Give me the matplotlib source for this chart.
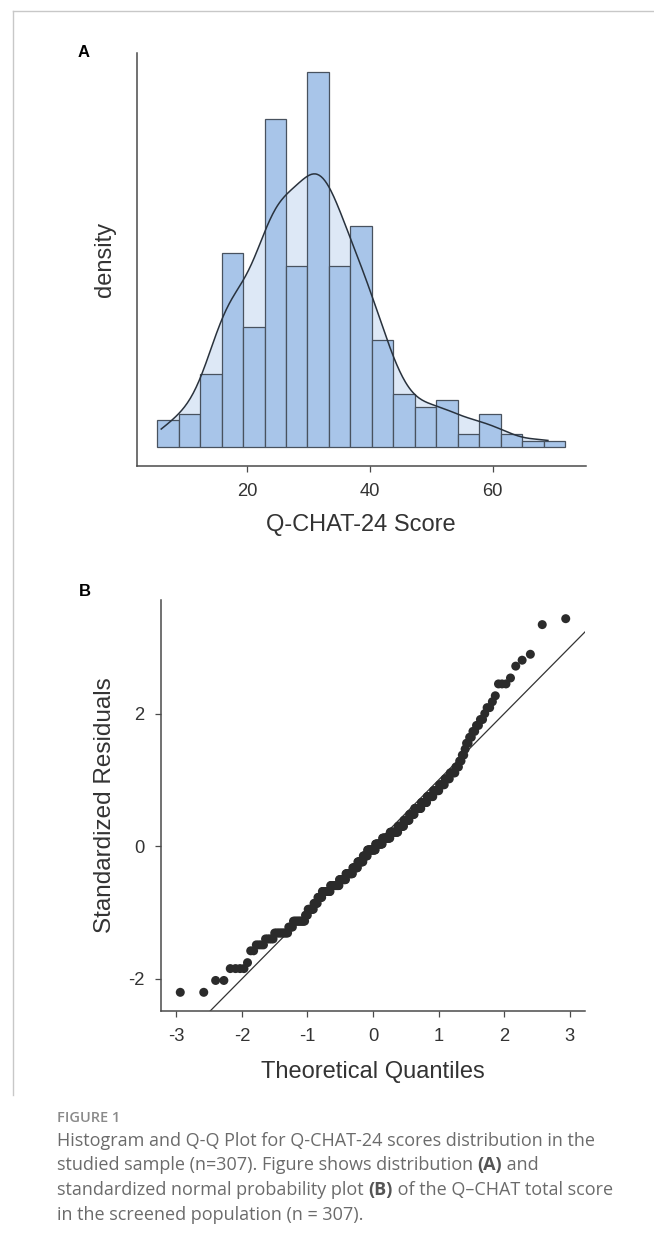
import numpy as np
import matplotlib
matplotlib.use("Agg")
import matplotlib.pyplot as plt
from matplotlib.lines import Line2D
from statistics import NormalDist

# ---------------- data: Q-CHAT-24 total scores (value -> number of children), n = 307
score_values = [6, 8, 10, 11, 13, 14, 15, 16, 17, 18, 19, 20, 21, 22, 23, 24, 25, 26,
                27, 28, 29, 30, 31, 32, 33, 34, 35, 36, 37, 38, 39, 40, 41, 42, 43,
                44, 45, 46, 47, 48, 49, 50, 51, 52, 53, 54, 55, 56, 58, 59, 61, 62,
                63, 68, 69]
score_counts = [2, 2, 4, 1, 2, 4, 5, 10, 4, 12, 3, 7, 5, 6, 12, 14, 11, 12,
                9, 10, 8, 15, 13, 14, 14, 10, 9, 8, 10, 8, 8, 7, 6, 5, 5,
                3, 2, 2, 1, 2, 2, 2, 2, 2, 1, 2, 1, 1, 3, 1, 1, 1,
                1, 1, 1]

hist_xticks = [20, 40, 60]
qq_xticks = [-3, -2, -1, 0, 1, 2, 3]
qq_yticks = [-2, 0, 2]

caption_title = "FIGURE 1"
caption_lines = [
    [("Histogram and Q-Q Plot for Q-CHAT-24 scores distribution in the", False)],
    [("studied sample (n=307). Figure shows distribution ", False), ("(A)", True), (" and", False)],
    [("standardized normal probability plot ", False), ("(B)", True), (" of the Q\u2013CHAT total score", False)],
    [("in the screened population (n = 307).", False)],
]

# ---------------- styles
W, H = 654, 1241
BAR_FACE = "#A8C5E9"
BAR_EDGE = "#48525F"
KDE_FILL = "#DDE8F6"
KDE_LINE = "#29323D"
SPINE = "#4a4a4a"
TXT = "#333333"
CAP = "#6b6b6b"
FONT = ["Liberation Sans", "DejaVu Sans"]
plt.rcParams["font.family"] = FONT
plt.rcParams["axes.unicode_minus"] = False

scores = np.repeat(np.array(score_values, float), score_counts)
n = scores.size

fig = plt.figure(figsize=(W / 100, H / 100), dpi=100)
fig.patch.set_facecolor("white")


def rect(l, t, r, b):
    return [l / W, 1 - b / H, (r - l) / W, (b - t) / H]


def style_axes(ax):
    for s in ("top", "right"):
        ax.spines[s].set_visible(False)
    for s in ("left", "bottom"):
        ax.spines[s].set_color(SPINE)
        ax.spines[s].set_linewidth(1.1)
    ax.tick_params(direction="out", length=4.2, width=0.9, color=SPINE,
                   labelsize=13.2, labelcolor=TXT, pad=8)


# ---------------- panel A: histogram + density
axA = fig.add_axes(rect(136.7, 53.3, 585.7, 466))
style_axes(axA)
bin_start, bin_width, n_bins = 5.33, 3.5, 19
edges = bin_start + bin_width * np.arange(n_bins + 1)
dens, _ = np.histogram(scores, bins=edges, density=True)

# gaussian kernel density (bw.nrd0), evaluated over the data range
sd = scores.std(ddof=1)
iqr = np.subtract(*np.percentile(scores, [75, 25]))
bw = 0.9 * min(sd, iqr / 1.34) * n ** (-0.2)
gx = np.linspace(scores.min(), scores.max(), 400)
gy = np.exp(-0.5 * ((gx[:, None] - scores[None, :]) / bw) ** 2).sum(1) / (n * bw * np.sqrt(2 * np.pi))

axA.fill_between(gx, gy, 0, color=KDE_FILL, lw=0, zorder=1)
axA.bar(edges[:-1], dens, width=bin_width, align="edge", color=BAR_FACE,
        edgecolor=BAR_EDGE, linewidth=0.9, zorder=2)
axA.plot(gx, gy, color=KDE_LINE, lw=1.1, zorder=3)

xr = edges[-1] - edges[0]
axA.set_xlim(edges[0] - 0.05 * xr, edges[-1] + 0.05 * xr)
top = dens.max()
axA.set_ylim(-0.05 * top, 1.05 * top)
axA.set_xticks(hist_xticks)
axA.set_yticks([])
axA.set_xlabel("Q-CHAT-24 Score", fontsize=17, color=TXT, va="center")
axA.xaxis.set_label_coords(0.5, -(525 - 466) / (466 - 53.3))
axA.set_ylabel("density", fontsize=17, color=TXT, va="center", ha="center")
axA.yaxis.set_label_coords((105 - 136.7) / (585.7 - 136.7), 0.5)

# ---------------- panel B: Q-Q plot
axB = fig.add_axes(rect(161, 600, 585, 1011))
style_axes(axB)
z = np.sort((scores - scores.mean()) / sd)
theo = np.array([NormalDist().inv_cdf((i - 0.5) / n) for i in range(1, n + 1)])
axB.scatter(theo, z, s=42, color="#2b2b2b", edgecolors="none", zorder=3)
axB.margins(x=0.05, y=0.05)
axB.axline((0, 0), slope=1, color="#333333", lw=0.9, zorder=2)
axB.set_xticks(qq_xticks)
axB.set_yticks(qq_yticks)
axB.set_xlabel("Theoretical Quantiles", fontsize=17, color=TXT, va="center")
axB.xaxis.set_label_coords(0.5, -(1071.7 - 1011) / (1011 - 600))
axB.set_ylabel("Standardized Residuals", fontsize=17.5, color=TXT, va="center", ha="center")
axB.yaxis.set_label_coords((104.8 - 161) / (585 - 161), 0.5)

# panel letters
fig.text(84 / W, 1 - 52.7 / H, "A", fontsize=12, fontweight="bold", ha="center", va="center")
fig.text(85 / W, 1 - 591 / H, "B", fontsize=12, fontweight="bold", ha="center", va="center")

# frame around figure image
frame_kw = dict(color="#c8c8c8", lw=1.0, transform=fig.transFigure)
fig.add_artist(Line2D([13 / W, 1], [1 - 11 / H, 1 - 11 / H], **frame_kw))
fig.add_artist(Line2D([13 / W, 13 / W], [1 - 11 / H, 1 - 1095 / H], **frame_kw))

# ---------------- caption
renderer = fig.canvas.get_renderer()
CAPFONT = ["Open Sans", "DejaVu Sans"]
fig.text(57 / W, 1 - 1118 / H, caption_title, fontsize=10.5, fontweight="semibold",
         color="#8a8a8a", family=CAPFONT, va="center", ha="left")


def seg_width(txt, bold, size):
    t1 = fig.text(0, 0, txt + "|", fontsize=size, fontweight="bold" if bold else "normal", family=CAPFONT)
    t2 = fig.text(0, 0, "|", fontsize=size, fontweight="bold" if bold else "normal", family=CAPFONT)
    w = t1.get_window_extent(renderer).width - t2.get_window_extent(renderer).width
    t1.remove(); t2.remove()
    return w


cap_size = 13
line_y = [1140.5, 1165.2, 1190.2, 1215]
for segs, yy in zip(caption_lines, line_y):
    x = 57.0
    for txt, bold in segs:
        fig.text(x / W, 1 - yy / H, txt, fontsize=cap_size,
                 fontweight="bold" if bold else "normal",
                 color="#555555" if bold else CAP, family=CAPFONT, va="center", ha="left")
        x += seg_width(txt, bold, cap_size)

fig.savefig("out.png", dpi=100, facecolor="white")
